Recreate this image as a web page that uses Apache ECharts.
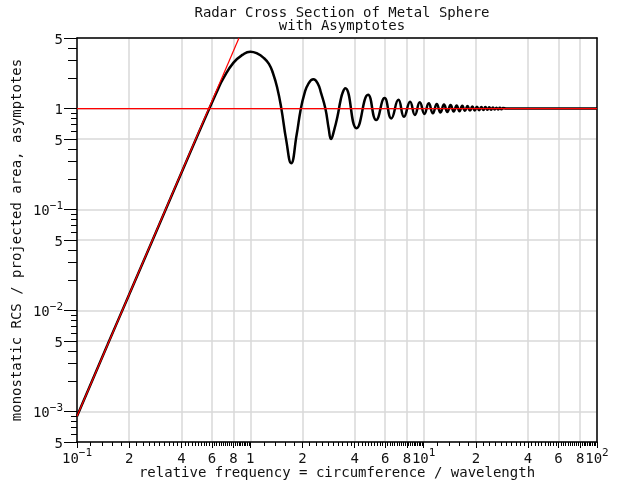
<!DOCTYPE html>
<html><head><meta charset="utf-8">
<script src="https://cdn.jsdelivr.net/npm/echarts@6/dist/echarts.min.js"></script>
<style>html,body{margin:0;padding:0;background:#fff}#c{width:640px;height:480px}</style>
</head><body><div id="c"></div>
<script>
const titleText = 'Radar Cross Section of Metal Sphere\nwith Asymptotes';
const xName = 'relative frequency = circumference / wavelength';
const yName = 'monostatic RCS / projected area, asymptotes';

// Mie-series curve (x = circumference/wavelength, y = RCS / projected area)
const rcsX = [0.1, 0.15, 0.2, 0.3, 0.4, 0.5, 0.58, 0.65, 0.7, 0.8, 0.9, 1.0, 1.1, 1.2, 1.28, 1.35, 1.43, 1.51, 1.61, 1.72,
  1.85, 1.95, 2.05, 2.15, 2.31, 2.45, 2.56, 2.71, 2.83, 2.92, 3.05, 3.18, 3.32, 3.42, 3.53,
  4.1, 4.78, 5.32, 5.95, 6.5, 7.15, 7.7, 8.35, 8.9, 9.5, 10.1, 10.7, 11.3, 11.9, 12.5, 13.1, 13.7, 14.3, 14.9,
  15.5, 16.1, 16.7, 17.3, 17.9, 18.5, 19.1, 19.7, 20.3, 20.9, 21.5, 22.1, 22.7, 23.3, 23.9, 24.5, 25.1, 25.7,
  26.3, 26.9, 27.5, 28.1, 28.7, 30, 50, 100];
const rcsY = [0.0009, 0.0046, 0.0144, 0.073, 0.23, 0.56, 1.0, 1.55, 2.0, 2.85, 3.4, 3.66, 3.5, 3.15, 2.77, 2.25, 1.6, 1.0, 0.49, 0.288,
  0.55, 0.97, 1.4, 1.73, 1.95, 1.77, 1.42, 1.0, 0.64, 0.50, 0.62, 0.83, 1.22, 1.46, 1.59,
  0.64, 1.37, 0.77, 1.27, 0.80, 1.22, 0.83, 1.17, 0.866, 1.155, 0.886, 1.13, 0.90, 1.11, 0.915, 1.095, 0.925, 1.085, 0.935,
  1.075, 0.942, 1.066, 0.95, 1.058, 0.955, 1.05, 0.96, 1.045, 0.965, 1.04, 0.968, 1.035, 0.972, 1.03, 0.976, 1.026, 0.98,
  1.022, 0.982, 1.018, 0.985, 1.015, 1.0, 1.0, 1.0];

// asymptotes
const rayleighX = [0.1, 0.86];
const rayleighY = [0.0009, 5.0];
const opticsX = [0.1, 100];
const opticsY = [1, 1];

// ticks
const xTickValues = [0.1, 0.2, 0.4, 0.6, 0.8, 1, 2, 4, 6, 8, 10, 20, 40, 60, 80, 100];
const xTickLabels = ['10^−1', '2', '4', '6', '8', '1', '2', '4', '6', '8', '10^1', '2', '4', '6', '8', '10^2'];
const yTickValues = [0.0005, 0.001, 0.005, 0.01, 0.05, 0.1, 0.5, 1, 5];
const yTickLabels = ['5', '10^−3', '5', '10^−2', '5', '10^−1', '5', '1', '5'];
const xMinorSteps = [12, 14, 16, 18, 20, 22, 24, 26, 28, 30, 32, 34, 36, 38, 40, 42, 44, 46, 48, 50, 52, 54, 56, 58,
  60, 62, 64, 66, 68, 70, 72, 74, 76, 78, 80, 82, 84, 86, 88, 90, 92, 94, 96, 98];
const decades = [0.01, 0.1, 1];
const yMidMantissas = [2, 3, 4];
const yShortMantissas = [6, 7, 8, 9];
const yDecades = [0.0001, 0.001, 0.01, 0.1, 1];

const F = 'DejaVu Sans Mono';
const xMinor = [];
decades.forEach(d => xMinorSteps.forEach(k => xMinor.push(k * d)));
const yMid = [], yShort = [];
yDecades.forEach(d => {
  yMidMantissas.forEach(m => { const v = m * d; if (v >= 0.0005 && v <= 5) yMid.push(v); });
  yShortMantissas.forEach(m => { const v = m * d; if (v >= 0.0005 && v <= 5) yShort.push(v); });
});

function toRich(lbl) {
  const p = lbl.split('^');
  return p.length > 1 ? '{b|' + p[0] + '}{s|' + p[1] + '}' : '{b|' + lbl + '}';
}
function makeFmt(vals, labels) {
  return function (v) {
    let best = 0, bd = Infinity;
    vals.forEach((t, i) => { const d = Math.abs(Math.log10(t) - Math.log10(v)); if (d < bd) { bd = d; best = i; } });
    return toRich(labels[best]);
  };
}
const rich = {
  b: { fontFamily: F, fontSize: 14, color: '#111', lineHeight: 18, verticalAlign: 'bottom' },
  s: { fontFamily: F, fontSize: 11, color: '#111', lineHeight: 12, verticalAlign: 'top' }
};
const pairs = (xs, ys) => xs.map((x, i) => [x, ys[i]]);
const black = { color: '#000', width: 1.5 };

const chart = echarts.init(document.getElementById('c'), null, { renderer: 'canvas' });
chart.setOption({
  animation: false,
  backgroundColor: '#fff',
  title: {
    text: titleText, left: 337, top: 2, textAlign: 'center',
    textStyle: { fontFamily: F, fontSize: 14, fontWeight: 'normal', color: '#111', lineHeight: 13 }
  },
  grid: { left: 77, right: 43, top: 38, bottom: 38, containLabel: false, outerBoundsMode: 'none' },
  xAxis: [
    {
      type: 'log', logBase: 10, min: 0.1, max: 100, position: 'bottom',
      axisLine: { show: true, lineStyle: black },
      axisTick: { show: true, customValues: xTickValues, length: 6, lineStyle: { color: '#000', width: 1 } },
      axisLabel: { show: true, customValues: xTickValues, formatter: makeFmt(xTickValues, xTickLabels), rich: rich, margin: 6, hideOverlap: false },
      splitLine: { show: true, lineStyle: { color: '#d9d9d9', width: 1.5 } },
      minorTick: { show: false }, minorSplitLine: { show: false },
      name: xName, nameLocation: 'middle', nameGap: 24, nameMoveOverlap: false,
      nameTextStyle: { fontFamily: F, fontSize: 14, color: '#111' }
    },
    {
      type: 'log', logBase: 10, min: 0.1, max: 100, position: 'bottom',
      axisLine: { show: false },
      axisTick: { show: true, customValues: xMinor, length: 4, lineStyle: { color: '#000', width: 1 } },
      axisLabel: { show: false }, splitLine: { show: false }
    },
    {
      type: 'log', logBase: 10, min: 0.1, max: 100, position: 'top',
      axisLine: { show: true, lineStyle: black },
      axisTick: { show: false }, axisLabel: { show: false }, splitLine: { show: false }
    }
  ],
  yAxis: [
    {
      type: 'log', logBase: 10, min: 0.0005, max: 5, position: 'left',
      axisLine: { show: true, lineStyle: black },
      axisTick: { show: true, customValues: yTickValues, length: 13, lineStyle: { color: '#000', width: 1 } },
      axisLabel: { show: true, customValues: yTickValues, formatter: makeFmt(yTickValues, yTickLabels), rich: rich, margin: 14, hideOverlap: false },
      splitLine: { show: true, lineStyle: { color: '#d9d9d9', width: 1.5 } },
      name: yName, nameLocation: 'middle', nameGap: 53, nameMoveOverlap: false,
      nameTextStyle: { fontFamily: F, fontSize: 14, color: '#111' }
    },
    {
      type: 'log', logBase: 10, min: 0.0005, max: 5, position: 'left',
      axisLine: { show: false },
      axisTick: { show: true, customValues: yMid, length: 9, lineStyle: { color: '#000', width: 1 } },
      axisLabel: { show: false }, splitLine: { show: false }
    },
    {
      type: 'log', logBase: 10, min: 0.0005, max: 5, position: 'left',
      axisLine: { show: false },
      axisTick: { show: true, customValues: yShort, length: 6, lineStyle: { color: '#000', width: 1 } },
      axisLabel: { show: false }, splitLine: { show: false }
    },
    {
      type: 'log', logBase: 10, min: 0.0005, max: 5, position: 'right',
      axisLine: { show: true, lineStyle: black },
      axisTick: { show: false }, axisLabel: { show: false }, splitLine: { show: false }
    }
  ],
  series: [
    {
      type: 'line', name: 'RCS', xAxisIndex: 0, yAxisIndex: 0, data: pairs(rcsX, rcsY),
      showSymbol: false, smooth: 0.5, lineStyle: { color: '#000', width: 2.5 }, z: 3
    },
    {
      type: 'line', name: 'Rayleigh', xAxisIndex: 0, yAxisIndex: 0, data: pairs(rayleighX, rayleighY),
      showSymbol: false, lineStyle: { color: '#ff0000', width: 1.2 }, z: 4
    },
    {
      type: 'line', name: 'Optics', xAxisIndex: 0, yAxisIndex: 0, data: pairs(opticsX, opticsY),
      showSymbol: false, lineStyle: { color: '#ff0000', width: 1.2 }, z: 4
    }
  ]
});
</script>
</body></html>
